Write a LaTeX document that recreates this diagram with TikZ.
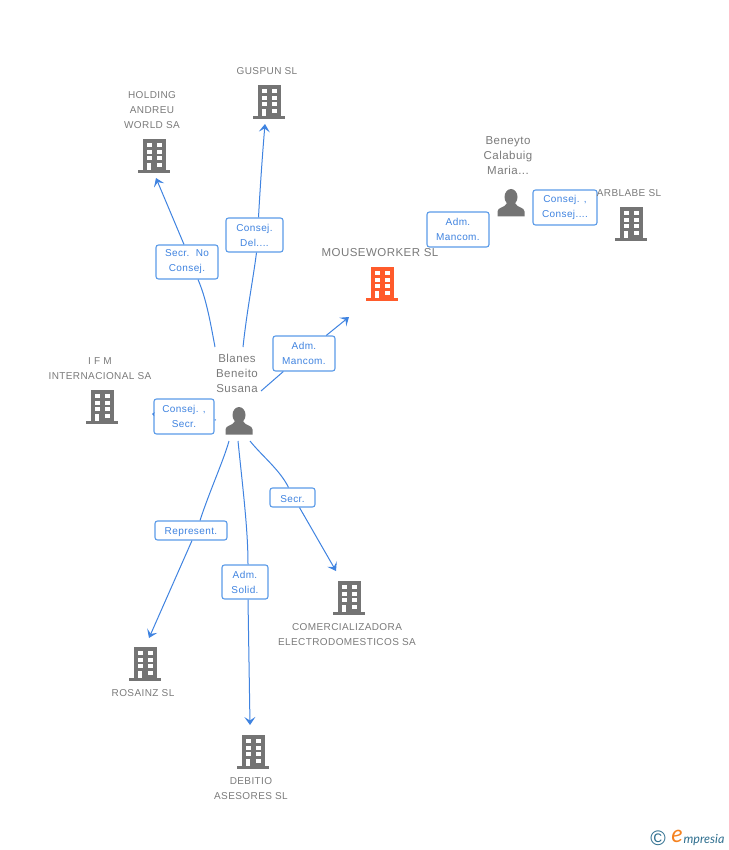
\documentclass[tikz,border=0pt]{standalone}
\usepackage{fontspec}
\setmainfont{Liberation Sans}[LetterSpace=4]
\newfontfamily\logofont{Lato}
\usetikzlibrary{arrows.meta}

\definecolor{linkblue}{HTML}{3F83E0}
\definecolor{boxblue}{HTML}{5B9BE8}
\definecolor{labelgray}{HTML}{7A7A7A}
\definecolor{icongray}{HTML}{747474}
\definecolor{mainorange}{HTML}{FF5B2B}
\definecolor{logoteal}{HTML}{2F6F8F}
\definecolor{logoorange}{HTML}{F58220}

\tikzset{
  link/.style={draw=linkblue, line width=1pt},
  linkarrow/.style={link, -{Stealth[length=8pt, width=11pt, inset=3.5pt]}},
  rolebox/.style={draw=boxblue, line width=1.1pt, fill=white, rounded corners=2.5pt, inner sep=0pt,
    text=linkblue, align=center, font=\fontsize{10}{15}\selectfont,
    execute at begin node={\rule{0pt}{10pt}}},
  company/.style={text=labelgray, align=center, inner sep=0pt, font=\fontsize{10}{15}\selectfont},
  bigname/.style={text=labelgray, align=center, inner sep=0pt, font=\fontsize{11.5}{15}\selectfont},
  building/.pic={
    \fill[pic actions] (-11,-17) rectangle (12,14.5);
    \fill[pic actions] (-16,14) rectangle (16,17);
    \foreach \row in {-13,-6.3,0.4}{
      \fill[white] (-7.5,\row) rectangle ++(5,4);
      \fill[white] (2.5,\row) rectangle ++(5,4);
    }
    \fill[white] (2.5,7) rectangle ++(5,4);
    \fill[white] (-7.5,7) rectangle (-3,14);
  },
  person/.pic={
    \fill[pic actions] (0,-6) circle [x radius=6.5, y radius=8];
    \fill[pic actions] (-13.5,13.5) -- (-13.5,8.5) .. controls (-13.5,4) and (-6,5) .. (-4,0)
      -- (4,0) .. controls (6,5) and (13.5,4) .. (13.5,8.5) -- (13.5,13.5) -- cycle;
  }
}

\begin{document}
\begin{tikzpicture}[x=1pt, y=-1pt]
\useasboundingbox (0,0) rectangle (728,850);

% free ends of the connectors
\coordinate (startHolding) at (215,347);
\coordinate (tipHolding) at (156,178);
\coordinate (startGuspun) at (243,347);
\coordinate (tipGuspun) at (265,124);
\coordinate (startMouse) at (261,391);
\coordinate (tipMouse) at (349,317);
\coordinate (startIfm) at (216,420);
\coordinate (tipIfm) at (152,414);
\coordinate (startRosainz) at (229,441);
\coordinate (tipRosainz) at (149,638);
\coordinate (startDebitio) at (238,441);
\coordinate (tipDebitio) at (250,725);
\coordinate (startComer) at (250,441);
\coordinate (tipComer) at (336,571);

% role boxes
\node[rolebox, minimum width=62pt, minimum height=34pt] (secrNo) at (187,262) {Secr.~~No\\Consej.};
\node[rolebox, minimum width=57pt, minimum height=34pt] (consejDel) at (254.5,235) {Consej.\\Del....};
\node[rolebox, minimum width=62pt, minimum height=35pt] (admMouse) at (304,353.5) {Adm.\\Mancom.};
\node[rolebox, minimum width=60pt, minimum height=35pt] (consejSecr) at (184,416.5) {Consej. ,\\Secr.};
\node[rolebox, minimum width=72pt, minimum height=19pt] (represent) at (191,530.5) {Represent.};
\node[rolebox, minimum width=46pt, minimum height=34pt] (admSolid) at (245,582) {Adm.\\Solid.};
\node[rolebox, minimum width=45pt, minimum height=19pt] (secrComer) at (292.5,497.5) {Secr.};
\node[rolebox, minimum width=62pt, minimum height=35pt] (admBeneyto) at (458,229.5) {Adm.\\Mancom.};
\node[rolebox, minimum width=64pt, minimum height=35pt] (consejArb) at (565,207.5) {Consej. ,\\Consej....};

% connectors
\draw[link] (startHolding) .. controls (210,320) and (206,298) .. ([xshift=11pt]secrNo.south);
\draw[linkarrow] ([xshift=-3pt]secrNo.north) -- (tipHolding);
\draw[link] (startGuspun) .. controls (247,310) and (253,280) .. ([xshift=2pt]consejDel.south);
\draw[linkarrow] ([xshift=4pt]consejDel.north) .. controls (260,190) and (262,160) .. (tipGuspun);
\draw[link] (startMouse) -- (admMouse);
\draw[linkarrow] (admMouse) -- (tipMouse);
\draw[link] (startIfm) -- (consejSecr);
\draw[link, -{Stealth[length=2.5pt, width=4pt]}] (consejSecr) -- (tipIfm);
\draw[link] (startRosainz) .. controls (223,462) and (210,490) .. ([xshift=9pt]represent.north);
\draw[linkarrow] ([xshift=1pt]represent.south) -- (tipRosainz);
\draw[link] (startDebitio) .. controls (243,490) and (248,530) .. ([xshift=3pt]admSolid.north);
\draw[linkarrow] ([xshift=3pt]admSolid.south) -- (tipDebitio);
\draw[link] (startComer) .. controls (262,456) and (280,470) .. ([xshift=-4pt]secrComer.north);
\draw[linkarrow] ([xshift=7pt]secrComer.south) -- (tipComer);

% companies
\pic[fill=icongray] at (269,102) {building};
\node[company] (guspun) at (267,71.5) {GUSPUN SL};
\pic[fill=icongray] at (154,156) {building};
\node[company] (holding) at (152,110.5) {HOLDING\\ANDREU\\WORLD SA};
\pic[fill=mainorange] at (382,284) {building};
\node[bigname] (mouseworker) at (380,253) {MOUSEWORKER SL};
\pic[fill=icongray] at (631,224) {building};
\node[company] (arblabe) at (629,193.5) {ARBLABE SL};
\pic[fill=icongray] at (102,407) {building};
\node[company] (ifm) at (100,369) {I F M\\INTERNACIONAL SA};
\pic[fill=icongray] at (349,598) {building};
\node[company] (comer) at (347,635) {COMERCIALIZADORA\\ELECTRODOMESTICOS SA};
\pic[fill=icongray] at (145,664) {building};
\node[company] (rosainz) at (143,693.5) {ROSAINZ SL};
\pic[fill=icongray] at (253,752) {building};
\node[company] (debitio) at (251,789) {DEBITIO\\ASESORES SL};

% people
\pic[fill=icongray] at (511,203) {person};
\node[bigname] (beneyto) at (508,156) {Beneyto\\Calabuig\\Maria...};
\pic[fill=icongray] at (239,421) {person};
\node[bigname] (blanes) at (237,373.5) {Blanes\\Beneito\\Susana};

% logo
\node[inner sep=0pt, text=logoteal, font=\fontsize{21}{21}\selectfont] (copyright) at (658,838) {©};
\node[inner sep=0pt, text=logoorange, font=\logofont\itshape\fontsize{24}{24}\selectfont] (logoE) at (677,836.5) {e};
\node[inner sep=0pt, text=logoteal, font=\logofont\itshape\fontsize{12.5}{12.5}\selectfont] (logoText) at (704,840) {mpresia};

\end{tikzpicture}
\end{document}
